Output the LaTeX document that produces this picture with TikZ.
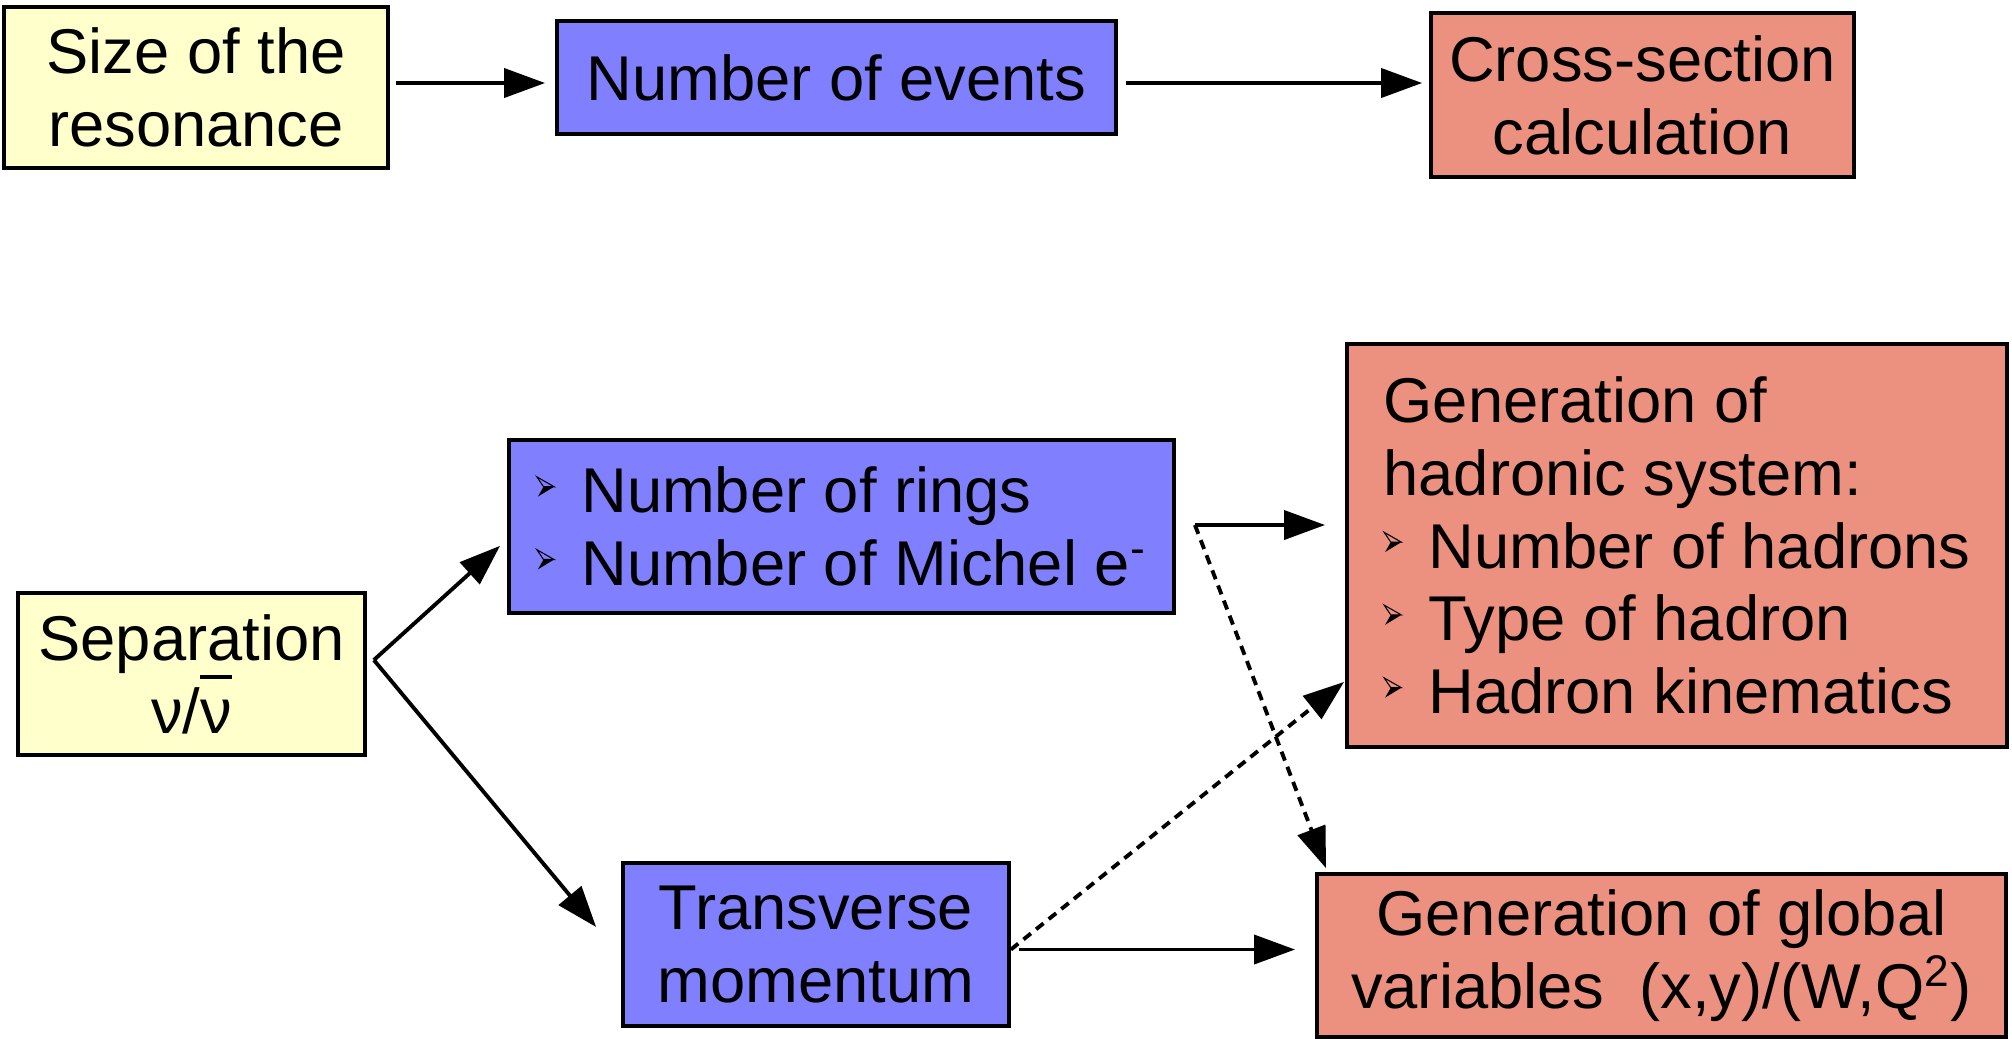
\documentclass[tikz,border=0pt]{standalone}
\usepackage{fontspec}
\setmainfont{Liberation Sans}
\usetikzlibrary{arrows.meta}
\definecolor{paleyellow}{RGB}{255,255,204}
\definecolor{lightblue}{RGB}{128,128,255}
\definecolor{salmon}{RGB}{236,145,128}
\newcommand{\bul}{\makebox[12.8pt][l]{\tikz[x=1pt,y=1pt,baseline=0pt]{
  \draw[line width=0.3pt,line join=miter] (0,10.2) -- (4.9,7.4) -- (1.9,7.4) -- cycle;
  \fill[black] (1.9,7.4) -- (4.9,7.4) -- (0.3,4.6) -- cycle;}}}
\newcommand{\nubar}{\setbox0\hbox{ν}\rlap{\rule[0.86em]{\wd0}{0.95pt}}\box0}

\begin{document}
\begin{tikzpicture}[x=0.01cm, y=-0.01cm,
  box/.style={draw, line width=1pt, inner sep=0pt, align=center,
    font=\fontsize{18}{20.7}\selectfont},
  arr/.style={line width=1.1pt, -{Triangle[length=0.41cm,width=0.29cm]}},
  dotarr/.style={arr, dash pattern=on 2.7pt off 1.9pt}]
  \useasboundingbox (0,0) rectangle (2012,1038);
  % top row
  \node[box, fill=paleyellow, minimum width=3.84cm, minimum height=1.61cm]
    (size) at (196,87.5) {Size of the\\resonance};
  \node[box, fill=lightblue, minimum width=5.59cm, minimum height=1.13cm]
    (events) at (836.5,77.5) {Number of events};
  \node[box, fill=salmon, minimum width=4.23cm, minimum height=1.64cm]
    (cross) at (1642.5,95) {Cross-section\\calculation};
  \draw[arr] ([shift={(6,-4.5)}]size.east) coordinate (s1) -- ([xshift=-0.1cm]s1 -| events.west);
  \draw[arr] ([shift={(8,5.5)}]events.east) coordinate (s2) -- ([xshift=-0.07cm]s2 -| cross.west);
  % inputs
  \node[box, fill=paleyellow, minimum width=3.47cm, minimum height=1.62cm]
    (sep) at (191.5,674) {Separation\\ν/\nubar};
  \node[box, fill=lightblue, minimum width=6.65cm, minimum height=1.73cm, align=left]
    (rings) at (841.5,526.5) {\bul Number of rings\\\bul Number of Michel e\textsuperscript{-}};
  \node[box, fill=lightblue, minimum width=3.86cm, minimum height=1.63cm]
    (trans) at (816,944.5) {Transverse\\momentum};
  % outputs
  \node[box, fill=salmon, minimum width=6.6cm, minimum height=4.03cm, align=left]
    (hadr) at (1677,545.5) {Generation of\\hadronic system:\\\bul Number of hadrons\\\bul Type of hadron\\\bul Hadron kinematics};
  \node[box, fill=salmon, minimum width=6.89cm, minimum height=1.63cm]
    (glob) at (1661.5,955.5) {Generation of global\\variables~~(x,y)/(W,Q\textsuperscript{2})};
  % split
  \coordinate (split) at ([shift={(7,-14)}]sep.east);
  \draw[arr] (split) -- ([shift={(-7,-69)}]rings.south west);
  \draw[arr] (split) -- ([shift={(-25,-17.5)}]trans.west);
  % connections
  \coordinate (fork) at ([shift={(19,-1.5)}]rings.east);
  \draw[arr] (fork) -- ([xshift=-0.2cm]fork -| hadr.west);
  \draw[dotarr] (fork) -- ([shift={(11,-4)}]glob.north west);
  \coordinate (tout) at ([yshift=-0.05cm]trans.east);
  \draw[dotarr] (tout) -- ([shift={(-1,-67)}]hadr.south west);
  \draw[arr] ([xshift=0.08cm]tout) -- ([xshift=-0.2cm]tout -| glob.west);
\end{tikzpicture}
\end{document}
